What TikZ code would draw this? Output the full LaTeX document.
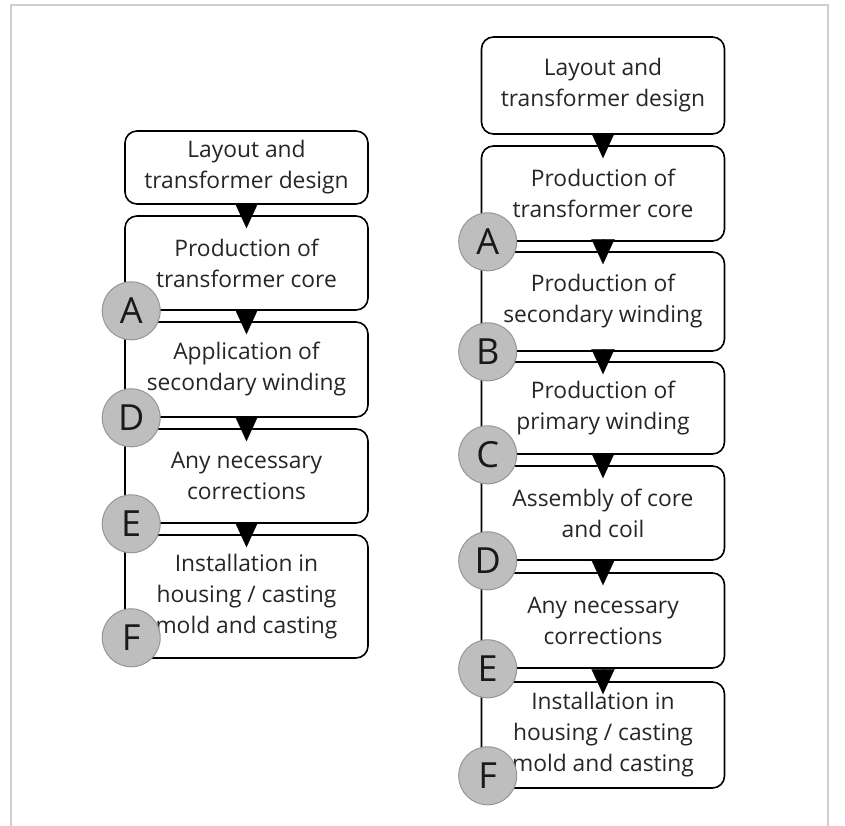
\documentclass[tikz,border=0pt]{standalone}
\usepackage{fontspec}
\setmainfont{Open Sans}
\usetikzlibrary{arrows.meta}
\definecolor{framegray}{RGB}{206,206,206}
\definecolor{markfill}{RGB}{190,190,190}
\definecolor{markline}{RGB}{150,150,150}
\tikzset{
	stepbox/.style={draw, line width=1.6pt, rounded corners=12pt, fill=white, minimum width=243pt, inner sep=0pt, align=center, text=black!85, font=\fontsize{22.8}{31}\selectfont},
	flow/.style={-{Triangle[width=23pt,length=25pt]}, line width=0.1pt, shorten >=-13pt},
	letter/.style={circle, draw=markline, fill=markfill, line width=1pt, minimum size=58pt, inner sep=0pt, text=black!90, font=\fontsize{36}{36}\selectfont}
}
\begin{document}
\begin{tikzpicture}[x=1pt,y=-1pt]
	\useasboundingbox (0,0) rectangle (845,825);
	\draw[framegray, line width=2pt] (11,830) -- (11,5) -- (828,5) -- (828,830);
	
	% left column
	\node[stepbox, minimum height=73pt] (l1) at (246.5,167.5) {Layout and\\transformer design};
	\node[stepbox, minimum height=94pt] (l2) at (246.5,263) {Production of\\transformer core};
	\node[stepbox, minimum height=95pt] (l3) at (246.5,369.5) {Application of\\secondary winding};
	\node[stepbox, minimum height=94pt] (l4) at (246.5,476) {Any necessary\\corrections};
	\node[stepbox, minimum height=123pt] (l5) at (246.5,596.5) {Installation in\\housing / casting\\mold and casting};
	
	% right column
	\node[stepbox, minimum height=97pt] (r1) at (603,85.5) {Layout and\\transformer design};
	\node[stepbox, minimum height=95pt] (r2) at (603,193.5) {Production of\\transformer core};
	\node[stepbox, minimum height=99pt] (r3) at (603,301.5) {Production of\\secondary winding};
	\node[stepbox, minimum height=92pt] (r4) at (603,408) {Production of\\primary winding};
	\node[stepbox, minimum height=94pt] (r5) at (603,513) {Assembly of core\\and coil};
	\node[stepbox, minimum height=95pt] (r6) at (603,620.5) {Any necessary\\corrections};
	\node[stepbox, minimum height=106pt] (r7) at (603,735) {Installation in\\housing / casting\\mold and casting};
	
	\draw[flow] (l1) -- (l2);
	\draw[flow] (l2) -- (l3);
	\draw[flow] (l3) -- (l4);
	\draw[flow] (l4) -- (l5);
	
	\draw[flow] (r1) -- (r2);
	\draw[flow] (r2) -- (r3);
	\draw[flow] (r3) -- (r4);
	\draw[flow] (r4) -- (r5);
	\draw[flow] (r5) -- (r6);
	\draw[flow] (r6) -- (r7);
	
	% check points
	\node[letter] (la) at ([xshift=7pt]l2.south west) {A};
	\node[letter] (ld) at ([xshift=7pt]l3.south west) {D};
	\node[letter] (le) at ([xshift=7pt]l4.south west) {E};
	\node[letter] (lf) at ([xshift=7pt,yshift=21pt]l5.south west) {F};
	
	\node[letter] (ra) at ([xshift=7pt]r2.south west) {A};
	\node[letter] (rb) at ([xshift=7pt]r3.south west) {B};
	\node[letter] (rc) at ([xshift=7pt]r4.south west) {C};
	\node[letter] (rd) at ([xshift=7pt]r5.south west) {D};
	\node[letter] (re) at ([xshift=7pt]r6.south west) {E};
	\node[letter] (rf) at ([xshift=7pt,yshift=13pt]r7.south west) {F};
\end{tikzpicture}
\end{document}
